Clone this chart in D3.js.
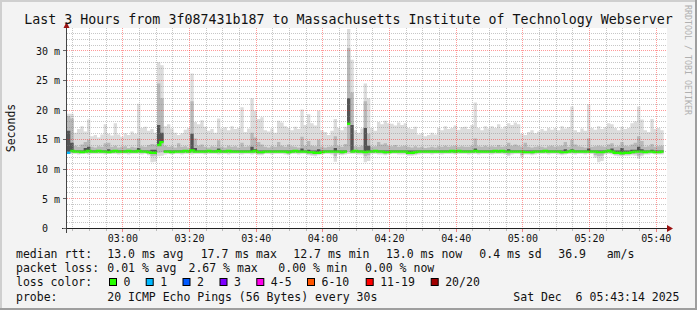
<!DOCTYPE html>
<html><head><meta charset="utf-8">
<script src="https://cdn.jsdelivr.net/npm/d3@7"></script>
<style>html,body{margin:0;padding:0;background:#f3f3f3}svg{display:block}</style>
</head><body><svg id="c" width="697" height="310"></svg>
<script>
// ---------------- DATA (ms, one value per 60 s step) ----------------
const medianRtt = [
12.8,13.1,13.0,13.0,12.9,13.0,13.1,13.0,13.0,13.1,
13.0,13.0,12.9,13.0,13.1,13.0,13.0,13.0,13.1,13.0,
13.0,13.1,13.0,13.0,12.9,12.8,12.8,14.1,14.6,13.0,
13.0,12.9,13.0,13.0,13.0,13.1,13.0,13.2,13.0,13.0,
13.0,13.0,13.1,13.0,13.0,13.1,13.0,13.0,13.1,13.0,
13.0,13.0,13.0,13.0,13.0,13.0,13.1,12.9,12.9,13.0,
13.0,13.0,13.0,13.0,13.0,13.0,12.9,13.0,13.1,13.0,
13.0,13.0,12.9,12.9,12.8,12.8,12.9,13.0,13.0,13.0,
13.0,13.0,12.9,13.0,17.7,13.0,13.1,13.0,13.0,12.9,
13.0,13.0,13.1,13.0,13.0,12.9,12.9,13.0,13.0,13.0,
13.0,13.0,12.8,12.8,12.9,13.0,13.0,13.0,13.0,13.0,
13.0,13.0,13.0,13.0,13.0,13.1,13.0,13.1,13.0,13.0,
13.0,13.0,13.1,13.0,13.0,13.0,13.0,13.0,13.1,13.0,
13.1,13.0,13.0,13.0,13.0,13.0,13.0,12.9,12.9,12.9,
13.0,13.0,13.0,13.1,13.0,13.0,13.0,13.0,12.9,12.9,
13.0,13.1,13.0,13.0,13.0,13.0,13.0,13.0,13.0,12.9,
12.9,13.0,13.1,13.0,12.8,12.8,12.7,12.8,12.8,12.9,
13.0,13.0,13.0,12.9,13.0,13.0,12.9,12.9,13.0
];
const pingMin = [
12.6,12.6,12.6,12.5,12.6,12.6,12.5,12.6,12.6,12.6,
12.6,12.5,12.6,12.6,12.6,12.5,12.6,12.6,12.5,12.6,
12.6,12.6,12.5,12.6,12.4,11.2,11.3,12.2,12.3,12.5,
12.6,12.5,12.6,12.6,12.5,12.6,12.6,12.5,12.6,12.6,
12.6,12.5,12.6,12.6,12.6,12.5,12.6,12.6,12.5,12.6,
12.6,12.6,12.5,12.6,12.6,12.5,12.6,12.4,12.4,12.6,
12.6,12.5,12.6,12.6,12.6,12.5,12.4,12.6,12.6,12.5,
12.6,12.6,12.4,12.3,12.2,12.4,12.5,12.6,12.6,12.5,
11.3,12.5,12.4,12.5,12.6,12.6,12.6,12.5,12.5,11.2,
11.4,12.6,12.6,12.5,12.5,12.4,12.5,12.6,12.6,12.5,
12.5,12.5,12.3,12.3,12.4,12.5,12.6,12.6,12.6,12.5,
12.6,12.6,12.5,12.6,12.6,12.6,12.5,12.6,12.6,12.6,
12.5,12.6,12.6,12.5,12.6,12.6,12.6,12.5,12.6,12.6,
12.6,12.5,12.2,12.5,12.6,12.6,12.0,12.5,12.5,12.4,
12.5,12.6,12.6,12.6,12.5,12.6,12.6,12.5,12.4,12.5,
12.6,12.6,12.5,12.6,12.6,12.5,12.6,12.6,12.0,11.2,
11.4,12.5,12.6,12.5,12.3,12.2,12.2,12.3,12.3,12.4,
12.3,11.8,12.2,12.5,12.5,12.6,12.5,12.5,12.5
];
const pingMax = [
19.4,19.4,16.2,16.8,17.3,16.4,18.4,15.6,15.8,15.4,
15.9,17.6,16.0,15.7,17.8,15.9,15.5,16.1,15.8,16.4,
16.0,21.1,17.0,17.2,16.5,16.8,16.2,28.1,27.6,17.3,
17.6,16.9,16.2,15.8,16.1,16.7,17.0,26.2,18.0,17.6,
18.3,17.2,16.5,16.8,16.2,18.6,16.9,17.1,16.6,17.3,
16.8,17.0,20.5,16.3,16.9,22.0,19.9,18.5,18.8,16.6,
16.4,16.9,16.2,18.2,17.9,17.3,17.0,16.6,17.2,16.8,
20.1,17.5,19.3,17.8,17.4,19.9,16.6,16.3,15.8,16.5,
18.5,17.0,16.6,17.2,33.7,28.5,16.6,16.2,16.9,24.5,
22.0,17.0,16.5,18.0,17.6,18.2,17.8,17.7,17.4,17.9,
17.5,17.8,17.0,16.8,17.2,15.9,16.1,15.6,15.8,16.2,
15.9,17.0,16.6,17.3,16.8,17.0,17.4,16.7,17.1,17.2,
16.8,17.5,21.3,17.0,16.6,17.3,16.9,17.3,17.0,17.6,
16.9,17.3,17.8,17.5,17.9,17.6,16.0,15.8,16.3,16.6,
16.1,16.4,16.8,16.5,17.0,16.7,17.0,16.6,17.3,16.9,
17.1,20.6,16.6,16.3,16.9,16.5,21.0,17.0,16.7,17.3,
16.8,17.1,17.8,17.6,17.0,16.6,17.2,16.8,17.0,17.8,
18.1,20.6,18.4,16.6,16.3,18.5,16.8,17.0,16.6
];
const pingLow = [
12.7,12.8,12.8,12.7,12.8,12.8,12.7,12.8,12.8,12.8,
12.8,12.7,12.8,12.8,12.8,12.7,12.8,12.8,12.7,12.8,
12.8,12.8,12.7,12.8,12.6,12.2,12.3,12.8,12.9,12.8,
12.8,12.7,12.8,12.8,12.7,12.8,12.8,12.8,12.8,12.8,
12.8,12.7,12.8,12.8,12.8,12.7,12.8,12.8,12.7,12.8,
12.8,12.8,12.7,12.8,12.8,12.7,12.8,12.6,12.6,12.8,
12.8,12.7,12.8,12.8,12.8,12.7,12.6,12.8,12.8,12.7,
12.8,12.8,12.6,12.5,12.5,12.6,12.7,12.8,12.8,12.7,
12.2,12.7,12.6,12.7,12.9,12.8,12.8,12.7,12.7,12.2,
12.4,12.8,12.8,12.7,12.7,12.6,12.7,12.8,12.8,12.7,
12.7,12.7,12.5,12.5,12.6,12.7,12.8,12.8,12.8,12.7,
12.8,12.8,12.7,12.8,12.8,12.8,12.7,12.8,12.8,12.8,
12.7,12.8,12.8,12.7,12.8,12.8,12.8,12.7,12.8,12.8,
12.8,12.7,12.5,12.7,12.8,12.8,12.4,12.7,12.7,12.6,
12.7,12.8,12.8,12.8,12.7,12.8,12.8,12.7,12.6,12.7,
12.8,12.8,12.7,12.8,12.8,12.7,12.8,12.8,12.4,12.2,
12.3,12.7,12.8,12.7,12.5,12.5,12.4,12.5,12.5,12.6,
12.6,12.3,12.5,12.7,12.7,12.8,12.7,12.7,12.7
];
const pingHigh = [
19.0,18.6,14.0,13.8,14.2,14.6,15.0,13.8,13.7,13.9,
13.8,14.4,14.5,13.8,14.0,13.7,13.8,13.9,13.6,13.8,
13.7,15.2,13.9,13.8,14.1,14.3,14.2,24.5,22.0,14.0,
13.8,13.9,13.7,14.4,13.8,13.9,13.7,21.5,15.2,14.0,
14.2,13.8,13.7,13.9,13.8,14.9,13.8,13.7,14.0,13.8,
13.9,13.7,14.5,13.8,13.9,16.2,15.4,14.6,14.2,13.8,
13.7,13.9,13.8,14.6,14.0,13.8,14.2,13.9,13.8,13.7,
15.5,14.0,14.8,14.0,13.9,15.0,13.8,13.7,13.8,13.9,
15.6,14.0,13.8,14.3,30.5,23.0,13.9,13.8,14.0,21.5,
16.0,13.8,13.9,14.6,14.2,14.4,14.0,13.9,14.1,13.8,
13.9,14.0,13.8,13.7,13.9,13.7,13.8,13.6,13.7,13.8,
13.7,13.9,13.8,14.0,13.8,13.9,14.0,13.8,13.9,13.8,
13.8,14.0,15.2,13.9,13.8,14.0,13.8,13.9,13.8,14.1,
13.8,13.9,14.5,14.0,14.2,14.0,13.8,14.5,13.8,13.7,
13.8,13.9,13.8,13.7,13.9,14.0,13.8,13.9,14.0,14.6,
13.8,15.0,14.2,13.9,13.8,13.7,15.2,13.8,13.9,14.0,
13.9,13.8,14.2,14.4,13.8,13.9,14.6,14.0,13.9,14.2,
14.5,15.6,14.8,13.8,13.9,14.3,13.8,13.9,14.0
];
const pingCore = [
16.5,14.5,13.2,13.2,13.2,13.6,13.8,13.2,13.2,13.2,
13.2,13.2,13.4,13.2,13.2,13.2,13.2,13.2,13.2,13.2,
13.2,13.6,13.2,13.2,13.2,13.3,13.3,17.5,16.2,13.2,
13.2,13.2,13.2,13.2,13.2,13.2,13.2,16.0,13.6,13.2,
13.2,13.2,13.2,13.2,13.2,13.5,13.2,13.2,13.2,13.2,
13.2,13.2,13.2,13.2,13.2,13.8,13.4,13.2,13.2,13.2,
13.2,13.2,13.2,13.2,13.2,13.2,13.2,13.2,13.2,13.2,
13.5,13.2,13.3,13.2,13.2,13.4,13.2,13.2,13.2,13.2,
13.6,13.2,13.2,13.2,22.0,17.5,13.2,13.2,13.2,17.0,
14.0,13.2,13.2,13.2,13.2,13.2,13.2,13.2,13.2,13.2,
13.2,13.2,13.2,13.2,13.2,13.2,13.2,13.2,13.2,13.2,
13.2,13.2,13.2,13.2,13.2,13.2,13.2,13.2,13.2,13.2,
13.2,13.2,13.5,13.2,13.2,13.2,13.2,13.2,13.2,13.2,
13.2,13.2,13.4,13.2,13.2,13.2,13.2,13.2,13.2,13.2,
13.2,13.2,13.2,13.2,13.2,13.2,13.2,13.2,13.2,13.4,
13.2,13.4,13.2,13.2,13.2,13.2,13.5,13.2,13.2,13.2,
13.2,13.2,13.3,13.5,13.2,13.2,13.6,13.2,13.2,13.3,
13.3,13.8,13.4,13.2,13.2,13.3,13.2,13.2,13.2
];
const lossCount = [
1,0,0,0,0,0,0,0,0,0, 0,0,0,0,0,0,0,0,0,0,
0,0,0,0,0,0,0,0,0,0, 0,0,0,0,0,0,0,0,0,0,
0,0,0,0,0,0,0,0,0,0, 0,0,0,0,0,0,0,0,0,0,
0,0,0,0,0,0,0,0,0,0, 0,0,0,0,0,0,0,0,0,0,
0,0,0,0,0,0,0,0,0,0, 0,0,0,0,0,0,0,0,0,0,
0,0,0,0,0,0,0,0,0,0, 0,0,0,0,0,0,0,0,0,0,
0,0,0,0,0,0,0,0,0,0, 0,0,0,0,0,0,0,0,0,0,
0,0,0,0,0,0,0,0,0,0, 0,0,0,0,0,0,0,0,0,0,
0,0,0,0,0,0,0,0,0,0, 0,0,0,0,0,0,0,0,0
];
const yTickValues = [0,5,10,15,20,25,30];
const lossBins = [
  {label:"0",    max:0,  color:"#26ff00"},
  {label:"1",    max:1,  color:"#00b8ff"},
  {label:"2",    max:2,  color:"#0059ff"},
  {label:"3",    max:3,  color:"#7e00ff"},
  {label:"4-5",  max:5,  color:"#ff00ea"},
  {label:"6-10", max:10, color:"#ff5500"},
  {label:"11-19",max:19, color:"#ff0000"},
  {label:"20/20",max:20, color:"#a10000"}
];
const titleText = "Last 3 Hours from 3f087431b187 to Massachusetts Institute of Technology Webserver";
const legendRtt  = ["median rtt:","13.0 ms avg","17.7 ms max","12.7 ms min","13.0 ms now","0.4 ms sd","36.9","am/s"];
const legendLoss = ["packet loss:","0.01 % avg","2.67 % max","0.00 % min","0.00 % now"];
const legendProbe = ["probe:","20 ICMP Echo Pings (56 Bytes) every 30s"];
const stampText = "Sat Dec  6 05:43:14 2025";

// ---------------- LAYOUT ----------------
const W = 697, H = 310;
const PL = 67, PR = 667, PT = 28, PB = 228;
const mono = "'DejaVu Sans Mono', monospace";
const stepMs = 60000;
const tEnd = Date.UTC(2025, 11, 6, 5, 43, 14);
const tStart = tEnd - 3 * 3600 * 1000;
const N = medianRtt.length;

const svg = d3.select("#c");
svg.append("rect").attr("width", W).attr("height", H).attr("fill", "#f3f3f3");
svg.append("rect").attr("x",0).attr("y",0).attr("width",W).attr("height",2).attr("fill","#cfcfcf");
svg.append("rect").attr("x",0).attr("y",0).attr("width",2).attr("height",H).attr("fill","#cfcfcf");
svg.append("rect").attr("x",0).attr("y",H-2).attr("width",W).attr("height",2).attr("fill","#9e9e9e");
svg.append("rect").attr("x",W-2).attr("y",0).attr("width",2).attr("height",H).attr("fill","#9e9e9e");

const x = d3.scaleUtc().domain([new Date(tStart), new Date(tEnd)]).range([PL, PR]);
const y = d3.scaleLinear().domain([0, 33.8]).range([PB + 0.5, PT + 0.5]);

svg.append("rect").attr("x", PL).attr("y", PT).attr("width", PR - PL).attr("height", PB - PT).attr("fill", "#ffffff");
svg.append("defs").append("clipPath").attr("id", "clip")
  .append("rect").attr("x", PL).attr("y", PT).attr("width", PR - PL).attr("height", PB - PT);

const pts = d3.range(N + 1).map(k => ({ t: new Date(tStart + k * stepMs), i: Math.min(k, N - 1) }));

const plot = svg.append("g").attr("clip-path", "url(#clip)");
function band(lo, hi, color) {
  const a = d3.area().curve(d3.curveStepAfter)
    .x(d => x(d.t)).y0(d => y(lo[d.i])).y1(d => y(hi[d.i]));
  plot.append("path").attr("d", a(pts)).attr("fill", color);
}
band(pingMin, pingMax, "#dcdcdc");
band(pingLow, pingHigh, "#b8b8b8");
band(medianRtt, pingCore, "#555555");

// grid
const grid = svg.append("g").attr("clip-path", "url(#clip)");
const majorT = x.ticks(d3.utcMinute.every(20));
const minorT = x.ticks(d3.utcMinute.every(5)).filter(t => t.getUTCMinutes() % 20 !== 0);
const minorY = d3.range(1, 34).filter(v => v % 5 !== 0);
const cx = v => Math.floor(x(v)) + 0.5;
const cy = v => Math.floor(y(v)) + 0.5;
const minorCol = "rgba(130,130,130,0.45)", majorCol = "rgba(255,0,0,0.4)";
minorT.forEach(t => grid.append("line").attr("x1", cx(t)).attr("x2", cx(t)).attr("y1", PT).attr("y2", PB)
  .attr("stroke", minorCol).attr("stroke-dasharray", "1,1"));
minorY.forEach(v => grid.append("line").attr("x1", PL).attr("x2", PR).attr("y1", cy(v)).attr("y2", cy(v))
  .attr("stroke", minorCol).attr("stroke-dasharray", "1,1"));
majorT.forEach(t => grid.append("line").attr("x1", cx(t)).attr("x2", cx(t)).attr("y1", PT).attr("y2", PB)
  .attr("stroke", majorCol).attr("stroke-dasharray", "1,1"));
yTickValues.filter(v => v > 0).forEach(v => grid.append("line").attr("x1", PL).attr("x2", PR).attr("y1", cy(v)).attr("y2", cy(v))
  .attr("stroke", majorCol).attr("stroke-dasharray", "1,1"));

// median line coloured by loss (horizontal steps, joined only on small changes)
const colorOf = n => lossBins.find(b => n <= b.max).color;
const ln = d3.line();
let run = null;
const runs = [];
for (let i = 0; i < N; i++) {
  const c = colorOf(lossCount[i]);
  const jump = i > 0 ? Math.abs(medianRtt[i] - medianRtt[i - 1]) : 0;
  if (!run || run.c !== c || jump > 0.6) { run = { c, p: [] }; runs.push(run); }
  run.p.push([x(new Date(tStart + i * stepMs)), y(medianRtt[i])]);
  run.p.push([x(new Date(tStart + (i + 1) * stepMs)), y(medianRtt[i])]);
}
runs.forEach(r => plot.append("path").attr("d", ln(r.p)).attr("fill", "none")
  .attr("stroke", r.c).attr("stroke-width", 2.4));

// axes
const ax = svg.append("g");
ax.append("line").attr("x1", PL - 5).attr("x2", PR + 1).attr("y1", PB + 0.5).attr("y2", PB + 0.5).attr("stroke", "#222");
ax.append("line").attr("x1", PL - 0.5).attr("x2", PL - 0.5).attr("y1", PB + 5).attr("y2", PT - 1).attr("stroke", "#444");
ax.append("path").attr("d", `M${PR},${PB - 3} L${PR + 6},${PB + 0.5} L${PR},${PB + 4} Z`).attr("fill", "#9b1111");
ax.append("path").attr("d", `M${PL - 3.5},${PT} L${PL - 0.5},${PT - 6} L${PL + 2.5},${PT} Z`).attr("fill", "#9b1111");
minorT.forEach(t => ax.append("line").attr("x1", cx(t)).attr("x2", cx(t)).attr("y1", PB + 1).attr("y2", PB + 3).attr("stroke", "#bbb"));
majorT.forEach(t => ax.append("line").attr("x1", cx(t)).attr("x2", cx(t)).attr("y1", PB + 1).attr("y2", PB + 4).attr("stroke", "#f08080"));
yTickValues.forEach(v => ax.append("line").attr("x1", PL - 4).attr("x2", PL - 1).attr("y1", cy(v)).attr("y2", cy(v)).attr("stroke", "#666"));

const fmt = d3.utcFormat("%H:%M");
majorT.forEach(t => ax.append("text").attr("x", x(t)).attr("y", 241.5).attr("text-anchor", "middle")
  .attr("font-family", mono).attr("font-size", "10px").attr("fill", "#111").text(fmt(t)));
yTickValues.forEach(v => ax.append("text").attr("x", v === 0 ? 48 : 60).attr("y", y(v) + 3.6).attr("text-anchor", "end")
  .attr("font-family", mono).attr("font-size", "10px").attr("fill", "#111").text(v === 0 ? "0" : v + " m"));

svg.append("text").attr("transform", "translate(15,128) rotate(-90)").attr("text-anchor", "middle")
  .attr("font-family", mono).attr("font-size", "11.5px").attr("fill", "#111").text("Seconds");

svg.append("text").attr("x", 348.5).attr("y", 24).attr("text-anchor", "middle")
  .attr("font-family", mono).attr("font-size", "13.3px").attr("fill", "#111").text(titleText);

svg.append("text").attr("transform", "translate(685,5) rotate(90)")
  .attr("font-family", mono).attr("font-size", "8.3px").attr("fill", "#b0b0b0").text("RRDTOOL / TOBI OETIKER");

// legend
const lg = svg.append("g").attr("font-family", mono).attr("font-size", "11.5px").attr("fill", "#111");
const put = (tx, xx, yy) => lg.append("text").attr("x", xx).attr("y", yy).attr("xml:space", "preserve").text(tx);
const rttX = [16, 107.3, 200.7, 293.3, 386, 479.3, 558.3, 606.7];
legendRtt.forEach((s, k) => put(s, rttX[k], 258.3));
const lossX = [16, 107.3, 188.5, 278.3, 365];
legendLoss.forEach((s, k) => put(s, lossX[k], 272));
put("loss color:", 16, 286.3);
const boxX = [109, 145.7, 182.5, 219.5, 256.3, 307, 365.7, 430.7];
lossBins.forEach((b, k) => {
  lg.append("rect").attr("x", boxX[k] + 0.5).attr("y", 278.5).attr("width", 7).attr("height", 7)
    .attr("fill", b.color).attr("stroke", "#000").attr("stroke-width", 1);
  put(b.label, boxX[k] + 14.5, 286.3);
});
put(legendProbe[0], 16, 300.5);
put(legendProbe[1], 107.3, 300.5);
put(stampText, 513.3, 300.5);
</script></body></html>
